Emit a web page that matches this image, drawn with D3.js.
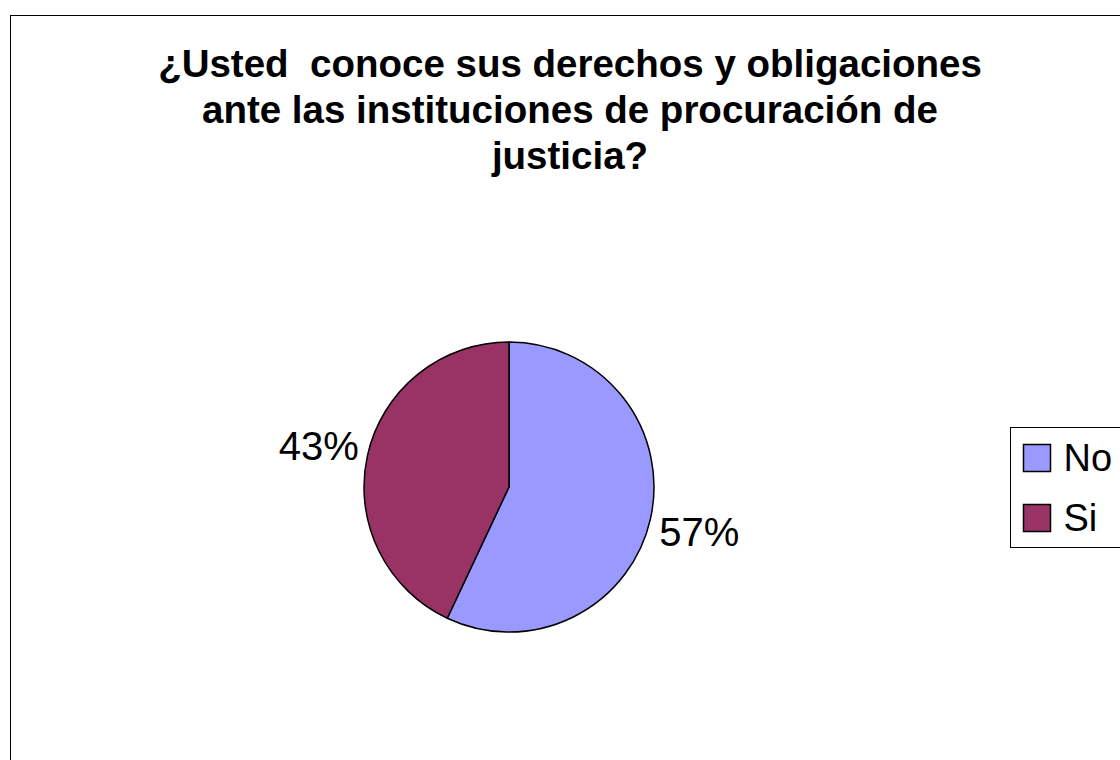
<!DOCTYPE html>
<html>
<head>
<meta charset="utf-8">
<script src="https://cdn.jsdelivr.net/npm/d3@7"></script>
<style>
  body { margin: 0; background: #fff; }
  text { font-family: Arial, "Liberation Sans", sans-serif; }
</style>
</head>
<body>
<svg id="chart" width="1120" height="760"></svg>
<script>
// data
var categories = ["No", "Si"];
var values = [57, 43];
var colors = ["#9999FF", "#993366"];
var titleLines = ["¿Usted  conoce sus derechos y obligaciones",
                  "ante las instituciones de procuración de",
                  "justicia?"];

var svg = d3.select("#chart");
var width = 1120, height = 760;

// chart frame (runs off the right and bottom edge)
svg.append("rect")
  .attr("x", 10.5).attr("y", 15.5)
  .attr("width", 1200).attr("height", 800)
  .attr("fill", "#fff")
  .attr("stroke", "#000").attr("stroke-width", 1);

// title
svg.append("g").selectAll("text")
  .data(titleLines)
  .join("text")
  .attr("x", 570)
  .attr("y", function(d, i){ return 77 + i * 46; })
  .attr("text-anchor", "middle")
  .style("white-space", "pre")
  .attr("font-size", 38.5)
  .attr("font-weight", "bold")
  .text(function(d){ return d; });

// pie
var cx = 509, cy = 487, r = 145;
var pie = d3.pie().sort(null).value(function(d){ return d; });
var arcs = pie(values);
var arc = d3.arc().innerRadius(0).outerRadius(r);
var labelArc = d3.arc().innerRadius(r + 50).outerRadius(r + 50);
var total = d3.sum(values);

var g = svg.append("g").attr("transform", "translate(" + cx + "," + cy + ")");
g.selectAll("path")
  .data(arcs)
  .join("path")
  .attr("d", arc)
  .attr("fill", function(d, i){ return colors[i]; })
  .attr("stroke", "#000")
  .attr("stroke-width", 1.5)
  .attr("stroke-linejoin", "round");

g.selectAll("text.lbl")
  .data(arcs)
  .join("text")
  .attr("class", "lbl")
  .attr("transform", function(d){ return "translate(" + labelArc.centroid(d) + ")"; })
  .attr("text-anchor", "middle")
  .attr("dy", "0.4em")
  .attr("font-size", 40)
  .text(function(d){ return Math.round(d.value / total * 100) + "%"; });

// legend
var legend = svg.append("g").attr("transform", "translate(1010.5,427.5)");
legend.append("rect")
  .attr("width", 200).attr("height", 120)
  .attr("fill", "#fff")
  .attr("stroke", "#000").attr("stroke-width", 1);

var y = d3.scaleBand().domain(categories).range([0, 120]);
var items = legend.selectAll("g.item")
  .data(categories)
  .join("g")
  .attr("class", "item")
  .attr("transform", function(d){ return "translate(13," + (y(d) + y.bandwidth() / 2) + ")"; });

items.append("rect")
  .attr("x", 0).attr("y", -13)
  .attr("width", 27).attr("height", 27)
  .attr("fill", function(d, i){ return colors[i]; })
  .attr("stroke", "#000").attr("stroke-width", 1.5);

items.append("text")
  .attr("x", 40)
  .attr("dy", "0.36em")
  .attr("font-size", 38)
  .text(function(d){ return d; });
</script>
</body>
</html>
